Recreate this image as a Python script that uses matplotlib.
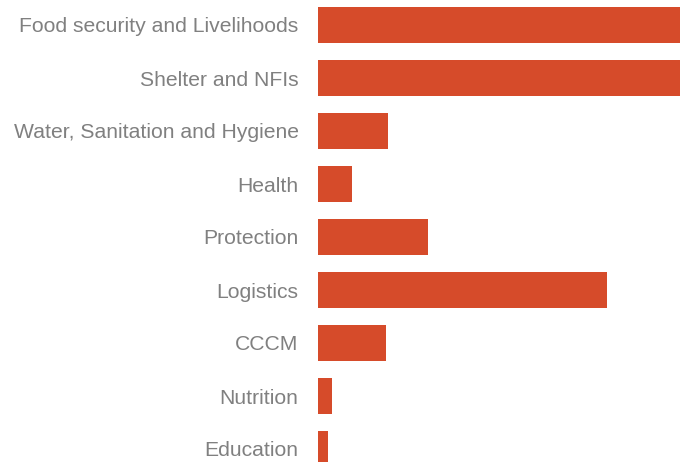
import matplotlib.pyplot as plt

# sectors, top to bottom
sectors = ['Food security and Livelihoods', 'Shelter and NFIs',
           'Water, Sanitation and Hygiene', 'Health', 'Protection',
           'Logistics', 'CCCM', 'Nutrition', 'Education']
# bar lengths (first two run off the edge)
values = [420, 400, 70, 34, 110, 289, 68, 14, 10]

bar_color = '#D64B2A'
text_color = '#808080'

fig = plt.figure(figsize=(6.8, 4.62), dpi=100)
ax = fig.add_axes([318/680, 0, 1 - 318/680, 1])

pos = list(range(len(sectors)))
ax.barh(pos, values, height=0.68, color=bar_color)
ax.set_xlim(0, 362)
ax.set_ylim((462 - 25) / 53, -25 / 53)

ax.set_yticks(pos)
ax.set_yticklabels(sectors, fontsize=15.2, color=text_color, family='Liberation Sans')
ax.tick_params(axis='y', length=0, pad=14)
ax.set_xticks([])
for s in ax.spines.values():
    s.set_visible(False)

plt.savefig('out.png', dpi=100)
